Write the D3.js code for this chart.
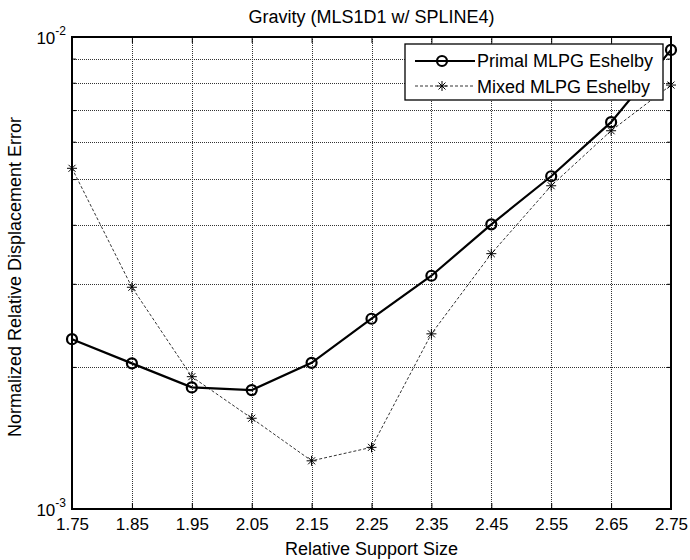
<!DOCTYPE html>
<html>
<head>
<meta charset="utf-8">
<script src="https://cdn.jsdelivr.net/npm/d3@7"></script>
<style>
  body { margin: 0; background: #fff; }
  text { font-family: "Liberation Sans", Arial, sans-serif; fill: #000; }
</style>
</head>
<body>
<svg id="chart" width="690" height="560"></svg>
<script>
// data
const supportSize = [1.75, 1.85, 1.95, 2.05, 2.15, 2.25, 2.35, 2.45, 2.55, 2.65, 2.75];
const primalErr = [2.29e-3, 2.035e-3, 1.81e-3, 1.786e-3, 2.04e-3, 2.53e-3, 3.12e-3, 4.01e-3, 5.07e-3, 6.6e-3, 9.39e-3];
const mixedErr = [5.27e-3, 2.95e-3, 1.907e-3, 1.557e-3, 1.265e-3, 1.351e-3, 2.35e-3, 3.475e-3, 4.84e-3, 6.33e-3, 7.91e-3];
const xTicks = [1.75, 1.85, 1.95, 2.05, 2.15, 2.25, 2.35, 2.45, 2.55, 2.65, 2.75];
const yMinor = [2e-3, 3e-3, 4e-3, 5e-3, 6e-3, 7e-3, 8e-3, 9e-3];
const seriesNames = ["Primal MLPG Eshelby", "Mixed MLPG Eshelby"];

let svg = d3.select("#chart");
let pLeft = 72, pRight = 671, pTop = 37, pBottom = 509;

let x = d3.scaleLinear().domain([1.75, 2.75]).range([pLeft, pRight]);
let y = d3.scaleLog().domain([1e-3, 1e-2]).range([pBottom, pTop]);

// grid
let grid = svg.append("g").attr("stroke", "#333").attr("stroke-width", 1)
  .attr("stroke-dasharray", "1,1").attr("shape-rendering", "crispEdges");
grid.selectAll(".vg").data(xTicks.slice(1, -1)).enter().append("line")
  .attr("x1", d => Math.round(x(d)) + 0.5).attr("x2", d => Math.round(x(d)) + 0.5)
  .attr("y1", pTop).attr("y2", pBottom);
grid.selectAll(".hg").data(yMinor).enter().append("line")
  .attr("x1", pLeft).attr("x2", pRight)
  .attr("y1", d => Math.round(y(d)) + 0.5).attr("y2", d => Math.round(y(d)) + 0.5);

// axes (ticks pointing inward on all sides)
let xBottom = d3.axisBottom(x).tickValues(xTicks).tickSize(-6).tickPadding(9).tickFormat(d3.format(".2f"));
let xTop = d3.axisTop(x).tickValues(xTicks).tickSize(-6).tickFormat("");
let yLeft = d3.axisLeft(y).tickValues(yMinor).tickSize(-4).tickFormat("");
let yRight = d3.axisRight(y).tickValues(yMinor).tickSize(-4).tickFormat("");

function styleAxis(g) {
  g.select(".domain").remove();
  g.selectAll("line").attr("stroke", "#000");
  g.selectAll("text").attr("font-size", 17).attr("font-family", "Liberation Sans, Arial, sans-serif");
}
svg.append("g").attr("transform", `translate(0,${pBottom})`).call(xBottom).call(styleAxis);
svg.append("g").attr("transform", `translate(0,${pTop})`).call(xTop).call(styleAxis);
svg.append("g").attr("transform", `translate(${pLeft},0)`).call(yLeft).call(styleAxis);
svg.append("g").attr("transform", `translate(${pRight},0)`).call(yRight).call(styleAxis);

// decade labels 10^-2 / 10^-3
[1e-2, 1e-3].forEach(function(d) {
  let t = svg.append("text").attr("x", pLeft - 6).attr("y", y(d) + 7)
    .attr("text-anchor", "end").attr("font-size", 17);
  t.append("tspan").text("10");
  t.append("tspan").attr("dy", -9).attr("font-size", 12).text(Math.log10(d));
});

svg.append("rect").attr("x", pLeft).attr("y", pTop).attr("width", pRight - pLeft).attr("height", pBottom - pTop)
  .attr("fill", "none").attr("stroke", "#000").attr("stroke-width", 2);

// lines
let line = d3.line().x(d => x(d[0])).y(d => y(d[1]));
let primal = supportSize.map((s, i) => [s, primalErr[i]]);
let mixed = supportSize.map((s, i) => [s, mixedErr[i]]);

svg.append("path").datum(mixed).attr("d", line).attr("fill", "none")
  .attr("stroke", "#000").attr("stroke-width", 0.8).attr("stroke-dasharray", "3,2");
svg.append("path").datum(primal).attr("d", line).attr("fill", "none")
  .attr("stroke", "#000").attr("stroke-width", 2.2);

function star(g, cx, cy, r) {
  let p = "M" + (cx - r) + "," + cy + "H" + (cx + r) +
    "M" + cx + "," + (cy - r) + "V" + (cy + r) +
    "M" + (cx - r * 0.7) + "," + (cy - r * 0.7) + "L" + (cx + r * 0.7) + "," + (cy + r * 0.7) +
    "M" + (cx - r * 0.7) + "," + (cy + r * 0.7) + "L" + (cx + r * 0.7) + "," + (cy - r * 0.7);
  g.append("path").attr("d", p).attr("stroke", "#000").attr("stroke-width", 1).attr("fill", "none");
}

let starG = svg.append("g");
mixed.forEach(d => star(starG, x(d[0]), y(d[1]), 5));

svg.append("g").selectAll("circle").data(primal).enter().append("circle")
  .attr("cx", d => x(d[0])).attr("cy", d => y(d[1])).attr("r", 5)
  .attr("fill", "none").attr("stroke", "#000").attr("stroke-width", 2.2);

// legend
let leg = svg.append("g");
leg.append("rect").attr("x", 405).attr("y", 44).attr("width", 258).attr("height", 56)
  .attr("fill", "#fff").attr("stroke", "#000").attr("stroke-width", 1.3);
leg.append("line").attr("x1", 415).attr("x2", 475).attr("y1", 61).attr("y2", 61)
  .attr("stroke", "#000").attr("stroke-width", 2.2);
leg.append("circle").attr("cx", 442).attr("cy", 61).attr("r", 5)
  .attr("fill", "none").attr("stroke", "#000").attr("stroke-width", 2.2);
leg.append("line").attr("x1", 415).attr("x2", 475).attr("y1", 86).attr("y2", 86)
  .attr("stroke", "#000").attr("stroke-width", 0.8).attr("stroke-dasharray", "3,2");
star(leg, 442, 86, 5);
leg.selectAll(".lt").data(seriesNames).enter().append("text")
  .attr("x", 477).attr("y", (d, i) => 67 + i * 26).attr("font-size", 18).text(d => d);

// titles
svg.append("text").attr("x", (pLeft + pRight) / 2).attr("y", 23).attr("text-anchor", "middle")
  .attr("font-size", 18).text("Gravity (MLS1D1 w/ SPLINE4)");
svg.append("text").attr("x", (pLeft + pRight) / 2).attr("y", 555).attr("text-anchor", "middle")
  .attr("font-size", 18).text("Relative Support Size");
svg.append("text").attr("transform", `translate(21,${(pTop + pBottom) / 2 + 4}) rotate(-90)`)
  .attr("text-anchor", "middle").attr("font-size", 18).text("Normalized Relative Displacement Error");
</script>
</body>
</html>
